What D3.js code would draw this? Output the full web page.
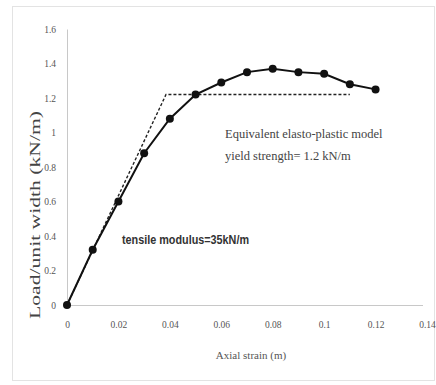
<!DOCTYPE html>
<html>
<head>
<meta charset="utf-8">
<script src="https://cdn.jsdelivr.net/npm/d3@7"></script>
<style>
  body { margin: 0; background: #fff; }
  .tick text { font-family: "Liberation Serif", "DejaVu Serif", serif; font-size: 9.5px; fill: #555; }
</style>
</head>
<body>
<svg id="chart" width="436" height="385"></svg>
<script>
// measured curve
let strain = [0, 0.01, 0.02, 0.03, 0.04, 0.05, 0.06, 0.07, 0.08, 0.09, 0.1, 0.11, 0.12];
let load = [0, 0.32, 0.6, 0.88, 1.08, 1.22, 1.29, 1.35, 1.37, 1.35, 1.34, 1.28, 1.25];

// equivalent elasto-plastic model
let modelStrain = [0, 0.0385, 0.11];
let modelLoad = [0, 1.22, 1.22];

let xTicks = [0, 0.02, 0.04, 0.06, 0.08, 0.1, 0.12, 0.14];
let yTicks = [0, 0.2, 0.4, 0.6, 0.8, 1, 1.2, 1.4, 1.6];

let svg = d3.select("#chart");

// outer frame
svg.append("rect")
    .attr("x", 12.5).attr("y", 6.5)
    .attr("width", 422).attr("height", 374)
    .attr("fill", "none")
    .attr("stroke", "#e3e3e3");

let x = d3.scaleLinear().domain([0, 0.14]).range([67, 427]);
let y = d3.scaleLinear().domain([0, 1.6]).range([305, 29]);

let xAxis = svg.append("g")
    .attr("transform", "translate(0,305)")
    .call(d3.axisBottom(x).tickValues(xTicks).tickSize(0).tickPadding(16)
        .tickFormat(d => d3.format("~g")(d)));
xAxis.select(".domain").attr("stroke", "#c8c8c8").attr("d", `M${x(0)},0.5H423`);

let yAxis = svg.append("g")
    .attr("transform", "translate(67,0)")
    .call(d3.axisLeft(y).tickValues(yTicks).tickSize(0).tickPadding(11)
        .tickFormat(d => d3.format("~g")(d)));
yAxis.select(".domain").attr("stroke", "#c8c8c8");

// model line (dashed)
let modelData = modelStrain.map((s, i) => ({ s: s, l: modelLoad[i] }));
svg.append("path")
    .datum(modelData)
    .attr("fill", "none")
    .attr("stroke", "#222")
    .attr("stroke-width", 1.4)
    .attr("stroke-dasharray", "3,2")
    .attr("d", d3.line().x(d => x(d.s)).y(d => y(d.l)));

// test curve
let data = strain.map((s, i) => ({ s: s, l: load[i] }));
svg.append("path")
    .datum(data)
    .attr("fill", "none")
    .attr("stroke", "#111")
    .attr("stroke-width", 2)
    .attr("d", d3.line().x(d => x(d.s)).y(d => y(d.l)));

svg.selectAll(".pt")
    .data(data)
    .join("circle")
    .attr("class", "pt")
    .attr("cx", d => x(d.s))
    .attr("cy", d => y(d.l))
    .attr("r", 4)
    .attr("fill", "#111");

// axis titles
svg.append("text")
    .attr("transform", "translate(40,215) rotate(-90)")
    .attr("text-anchor", "middle")
    .attr("textLength", 208)
    .attr("lengthAdjust", "spacingAndGlyphs")
    .style("font-family", "Liberation Serif, serif")
    .style("font-size", "15px")
    .style("fill", "#444")
    .text("Load/unit width (kN/m)");

svg.append("text")
    .attr("x", 251).attr("y", 359)
    .attr("text-anchor", "middle")
    .style("font-family", "Liberation Serif, serif")
    .style("font-size", "11px")
    .style("fill", "#555")
    .text("Axial strain (m)");

// annotations
let ann = svg.append("text")
    .style("font-family", "Liberation Serif, serif")
    .style("font-size", "12.5px")
    .style("fill", "#444");
ann.append("tspan").attr("x", 225).attr("y", 138).text("Equivalent elasto-plastic model");
ann.append("tspan").attr("x", 225).attr("y", 160).text("yield strength= 1.2 kN/m");

svg.append("text")
    .attr("x", 122).attr("y", 244)
    .attr("textLength", 127)
    .attr("lengthAdjust", "spacingAndGlyphs")
    .style("font-family", "Liberation Sans, sans-serif")
    .style("font-size", "12px")
    .style("font-weight", "bold")
    .style("fill", "#333")
    .text("tensile modulus=35kN/m");
</script>
</body>
</html>
